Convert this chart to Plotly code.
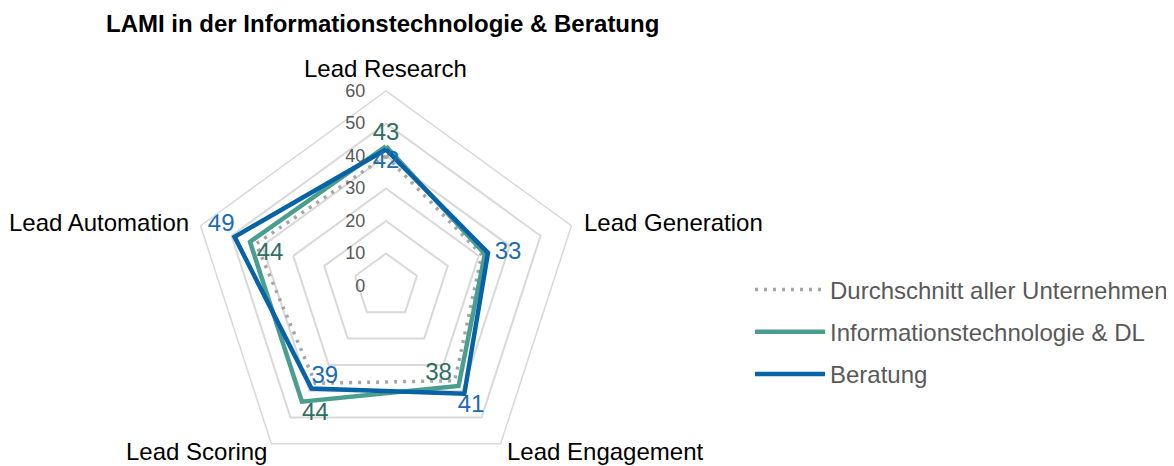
import plotly.graph_objects as go

categories = ["Lead Research", "Lead Generation", "Lead Engagement", "Lead Scoring", "Lead Automation"]
durchschnitt = [40, 31, 36, 37, 42]
it_dl = [43, 32, 38, 44, 44]
beratung = [42, 33, 41, 39, 49]

series_names = ["Durchschnitt aller Unternehmen", "Informationstechnologie & DL", "Beratung"]
radial_ticks = [0, 10, 20, 30, 40, 50, 60]

NB = "\u00a0"
show_it = [True, False, True, True, True]
show_ber = [True, True, True, True, True]
it_pos = ["top center", "top center", "top left", "bottom right", "bottom right"]
ber_pos = ["bottom center", "middle right", "bottom center", "top right", "top left"]
it_pad = [("", ""), ("", ""), ("", NB), ("", ""), (NB, "")]
ber_pad = [("", ""), (NB, ""), (NB * 2, ""), ("", ""), ("", "")]

def make_labels(vals, show, pad):
    return [(p[0] + str(v) + p[1]) if s else "" for v, s, p in zip(vals, show, pad)]

it_labels = make_labels(it_dl, show_it, it_pad)
ber_labels = make_labels(beratung, show_ber, ber_pad)

# The page body adds an 8px margin, so figure coords = screen coords - 8
OFF = 8
W, H = 1174, 474
cx, cy, R = 386 - OFF, 286 - OFF, 195

# category label placement (screen pixels: x, y, xanchor)
cat_label_pos = [(386, 68, "center"), (582, 222, "left"), (605, 451, "center"),
                 (196, 451, "center"), (191, 222, "right")]

FONT = "Liberation Sans, Arial, sans-serif"
C_GREY = "#A6A6A6"
C_TEAL = "#4A9E8F"
C_BLUE = "#0762A6"
C_TEAL_TXT = "#2F6F60"
C_BLUE_TXT = "#1C6BB3"

def closed(v):
    return list(v) + [v[0]]

fig = go.Figure()
fig.add_trace(go.Scatterpolar(r=closed(durchschnitt), theta=closed(categories), mode="lines",
                              name=series_names[0], legendgroup="a",
                              line=dict(color=C_GREY, width=3.5, dash="3px,6px")))
fig.add_trace(go.Scatterpolar(r=closed(it_dl), theta=closed(categories), mode="lines",
                              name=series_names[1], legendgroup="b",
                              line=dict(color=C_TEAL, width=4.5)))
fig.add_trace(go.Scatterpolar(r=closed(beratung), theta=closed(categories), mode="lines",
                              name=series_names[2], legendgroup="c",
                              line=dict(color=C_BLUE, width=4.5)))
fig.add_trace(go.Scatterpolar(r=it_dl, theta=categories, mode="text", text=it_labels,
                              textposition=it_pos, showlegend=False, hoverinfo="skip",
                              textfont=dict(family=FONT, size=24, color=C_TEAL_TXT)))
fig.add_trace(go.Scatterpolar(r=beratung, theta=categories, mode="text", text=ber_labels,
                              textposition=ber_pos, showlegend=False, hoverinfo="skip",
                              textfont=dict(family=FONT, size=24, color=C_BLUE_TXT)))

annotations = []
for cat, (px, py, anchor) in zip(categories, cat_label_pos):
    annotations.append(dict(text=cat, x=(px - OFF) / W, y=1 - (py - OFF) / H,
                            xref="paper", yref="paper",
                            xanchor=anchor, yanchor="middle", showarrow=False,
                            font=dict(family=FONT, size=24, color="#000000")))

fig.update_layout(
    width=W, height=H,
    margin=dict(l=0, r=0, t=0, b=0),
    paper_bgcolor="white",
    font=dict(family=FONT, color="#000000"),
    title=dict(text="<b>LAMI in der Informationstechnologie & Beratung</b>",
               x=(106 - OFF) / W, xanchor="left", y=1 - (24 - OFF) / H, yanchor="middle",
               font=dict(family=FONT, size=24, color="#000000")),
    annotations=annotations,
    polar=dict(
        domain=dict(x=[(cx - R) / W, (cx + R) / W], y=[(H - cy - R) / H, (H - cy + R) / H]),
        bgcolor="white",
        gridshape="linear",
        radialaxis=dict(range=[0, 60], tickvals=radial_ticks, showline=False,
                        ticks="outside", ticklen=14, tickcolor="rgba(0,0,0,0)",
                        gridcolor="#D9D9D9", gridwidth=1.5, angle=90, tickangle=90,
                        side="counterclockwise",
                        tickfont=dict(family=FONT, size=18, color="#595959")),
        angularaxis=dict(type="category", rotation=90, direction="clockwise",
                         showgrid=False, showline=True, linecolor="#D9D9D9", linewidth=1.5,
                         ticks="", showticklabels=False),
    ),
    legend=dict(x=(750 - OFF) / W, xanchor="left", y=1 - (332 - OFF) / H, yanchor="middle",
                font=dict(family=FONT, size=24, color="#595959"),
                itemwidth=70, tracegroupgap=8, bgcolor="rgba(0,0,0,0)"),
    showlegend=True,
)

fig.write_html("out.html")
